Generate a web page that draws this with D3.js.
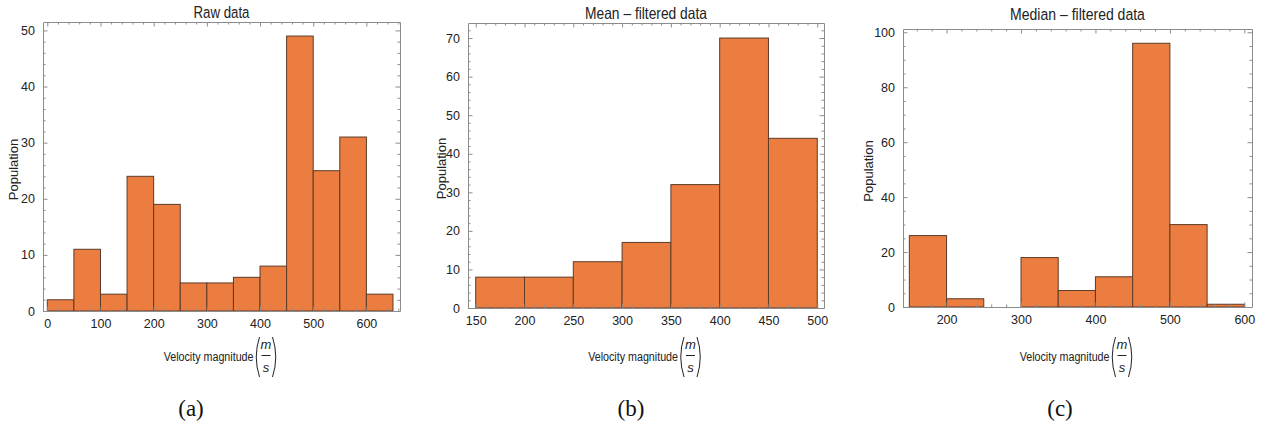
<!DOCTYPE html>
<html>
<head>
<meta charset="utf-8">
<script src="https://cdn.jsdelivr.net/npm/d3@7"></script>
<style>
  body { margin: 0; background: #fff; }
  svg { display: block; }
</style>
</head>
<body>
<div id="chart"></div>
<script>
const w = 1268;
const h = 432;

// histogram data
const rawEdges = [0, 50, 100, 150, 200, 250, 300, 350, 400, 450, 500, 550, 600, 650];
const rawCounts = [2, 11, 3, 24, 19, 5, 5, 6, 8, 49, 25, 31, 3];

const meanEdges = [150, 200, 250, 300, 350, 400, 450, 500];
const meanCounts = [8, 8, 12, 17, 32, 70, 44];

const medianEdges = [150, 200, 250, 300, 350, 400, 450, 500, 550, 600];
const medianCounts = [26, 3, 0, 18, 6, 11, 96, 30, 1];

// tick labels
const rawXTicks = [0, 100, 200, 300, 400, 500, 600];
const rawYTicks = [0, 10, 20, 30, 40, 50];
const meanXTicks = [150, 200, 250, 300, 350, 400, 450, 500];
const meanYTicks = [0, 10, 20, 30, 40, 50, 60, 70];
const medianXTicks = [200, 300, 400, 500, 600];
const medianYTicks = [0, 20, 40, 60, 80, 100];

const titles = ["Raw data", "Mean \u2013 filtered data", "Median \u2013 filtered data"];
const captions = ["(a)", "(b)", "(c)"];
const yLabel = "Population";
const xLabel = "Velocity magnitude";

const panels = [
  {edges: rawEdges, counts: rawCounts, xTicks: rawXTicks, yTicks: rawYTicks,
   xMinor: 20, yMinor: 2, xDomain: [-8.1, 663.2], yDomain: [0, 51.5],
   left: 43, right: 400, top: 22, bottom: 311, titleY: 18, titleW: 56, yLabX: 13, capX: 191},
  {edges: meanEdges, counts: meanCounts, xTicks: meanXTicks, yTicks: meanYTicks,
   xMinor: 10, yMinor: 2, xDomain: [142.1, 506.9], yDomain: [0, 73.9],
   left: 468, right: 824, top: 23, bottom: 308, titleY: 19, titleW: 122, yLabX: 441, capX: 631},
  {edges: medianEdges, counts: medianCounts, xTicks: medianXTicks, yTicks: medianYTicks,
   xMinor: 20, yMinor: 5, xDomain: [141.5, 610.3], yDomain: [0, 101.2],
   left: 903, right: 1252, top: 29, bottom: 307, titleY: 20, titleW: 135, yLabX: 868, capX: 1060}
];

const fill = "#ec7d40";
const edge = "#5c3b28";
const frameCol = "#8c8c8c";
const sans = "'Liberation Sans', Arial, sans-serif";

const svg = d3.select("#chart").append("svg").attr("width", w).attr("height", h);

function minorTicks(domain, step, majors) {
  return d3.range(Math.ceil(domain[0] / step) * step, domain[1], step)
           .filter(v => !majors.includes(v));
}

function styleAxis(g) {
  g.attr("font-family", sans).attr("font-size", 12.5);
  g.selectAll("path.domain").attr("stroke", frameCol);
  g.selectAll("line").attr("stroke", frameCol);
  g.selectAll("text").attr("fill", "#222");
}

// no narrow font installed: squeeze a text horizontally to a given width
function squeeze(t, x0, y0, width, anchor) {
  const len = t.node().getComputedTextLength();
  const s = width / len;
  t.attr("text-anchor", anchor)
   .attr("transform", "translate(" + x0 + "," + y0 + ") scale(" + s + ",1)");
}

panels.forEach((p, k) => {
  const x = d3.scaleLinear().domain(p.xDomain).range([p.left, p.right]);
  const y = d3.scaleLinear().domain(p.yDomain).range([p.bottom, p.top]);
  const g = svg.append("g");

  // bars
  const bins = p.counts.map((c, i) => ({x0: p.edges[i], x1: p.edges[i + 1], n: c}))
                       .filter(d => d.n > 0);
  g.selectAll("rect").data(bins).enter().append("rect")
    .attr("x", d => x(d.x0))
    .attr("y", d => y(d.n))
    .attr("width", d => x(d.x1) - x(d.x0))
    .attr("height", d => y(0) - y(d.n))
    .attr("fill", fill)
    .attr("stroke", edge)
    .attr("stroke-width", 1);

  const xMin = minorTicks(p.xDomain, p.xMinor, p.xTicks);
  const yMin = minorTicks(p.yDomain, p.yMinor, p.yTicks);

  // frame: bottom / left with labels, top / right without
  g.append("g").attr("transform", "translate(0," + p.bottom + ")")
    .call(d3.axisBottom(x).tickValues(p.xTicks).tickSize(-4.5).tickSizeOuter(0).tickPadding(8))
    .call(styleAxis);
  g.append("g").attr("transform", "translate(0," + p.bottom + ")")
    .call(d3.axisBottom(x).tickValues(xMin).tickSize(-2.5).tickFormat(""))
    .call(a => a.select(".domain").remove()).call(styleAxis);

  g.append("g").attr("transform", "translate(0," + p.top + ")")
    .call(d3.axisTop(x).tickValues(p.xTicks).tickSize(-4.5).tickSizeOuter(0).tickFormat(""))
    .call(styleAxis);
  g.append("g").attr("transform", "translate(0," + p.top + ")")
    .call(d3.axisTop(x).tickValues(xMin).tickSize(-2.5).tickFormat(""))
    .call(a => a.select(".domain").remove()).call(styleAxis);

  g.append("g").attr("transform", "translate(" + p.left + ",0)")
    .call(d3.axisLeft(y).tickValues(p.yTicks).tickSize(-4.5).tickSizeOuter(0).tickPadding(8))
    .call(styleAxis);
  g.append("g").attr("transform", "translate(" + p.left + ",0)")
    .call(d3.axisLeft(y).tickValues(yMin).tickSize(-2.5).tickFormat(""))
    .call(a => a.select(".domain").remove()).call(styleAxis);

  g.append("g").attr("transform", "translate(" + p.right + ",0)")
    .call(d3.axisRight(y).tickValues(p.yTicks).tickSize(-4.5).tickSizeOuter(0).tickFormat(""))
    .call(styleAxis);
  g.append("g").attr("transform", "translate(" + p.right + ",0)")
    .call(d3.axisRight(y).tickValues(yMin).tickSize(-2.5).tickFormat(""))
    .call(a => a.select(".domain").remove()).call(styleAxis);

  const cx = (p.left + p.right) / 2;

  // title
  const title = g.append("text").text(titles[k])
    .attr("font-family", sans).attr("font-size", 16.5).attr("fill", "#222");
  squeeze(title, cx, p.titleY, p.titleW, "middle");

  // y label
  g.append("text").text(yLabel)
    .attr("transform", "translate(" + p.yLabX + "," + ((p.top + p.bottom) / 2 + 3) + ") rotate(-90)")
    .attr("text-anchor", "middle").attr("dy", "0.35em")
    .attr("font-family", sans).attr("font-size", 13).attr("fill", "#222");

  // x label with (m / s)
  const e = cx + 32;
  const xl = g.append("g").attr("fill", "#222");
  const xt = xl.append("text").text(xLabel)
    .attr("font-family", sans).attr("font-size", 13.5);
  squeeze(xt, e, 361, 90, "end");
  xl.append("path").attr("d", `M${e + 6},337 Q${e - 0.5},357 ${e + 6},377`)
    .attr("fill", "none").attr("stroke", "#222").attr("stroke-width", 1);
  xl.append("path").attr("d", `M${e + 19},337 Q${e + 25.5},357 ${e + 19},377`)
    .attr("fill", "none").attr("stroke", "#222").attr("stroke-width", 1);
  xl.append("text").text("m").attr("x", e + 12.5).attr("y", 349)
    .attr("text-anchor", "middle").attr("font-style", "italic")
    .attr("font-family", sans).attr("font-size", 13);
  xl.append("line").attr("x1", e + 8).attr("x2", e + 17)
    .attr("y1", 355.5).attr("y2", 355.5).attr("stroke", "#222");
  xl.append("text").text("s").attr("x", e + 12.5).attr("y", 372)
    .attr("text-anchor", "middle").attr("font-style", "italic")
    .attr("font-family", sans).attr("font-size", 13);

  // caption
  svg.append("text").text(captions[k])
    .attr("x", p.capX).attr("y", 416).attr("text-anchor", "middle")
    .attr("font-family", "'Liberation Serif', 'DejaVu Serif', serif")
    .attr("font-size", 23).attr("fill", "#111");
});
</script>
</body>
</html>
